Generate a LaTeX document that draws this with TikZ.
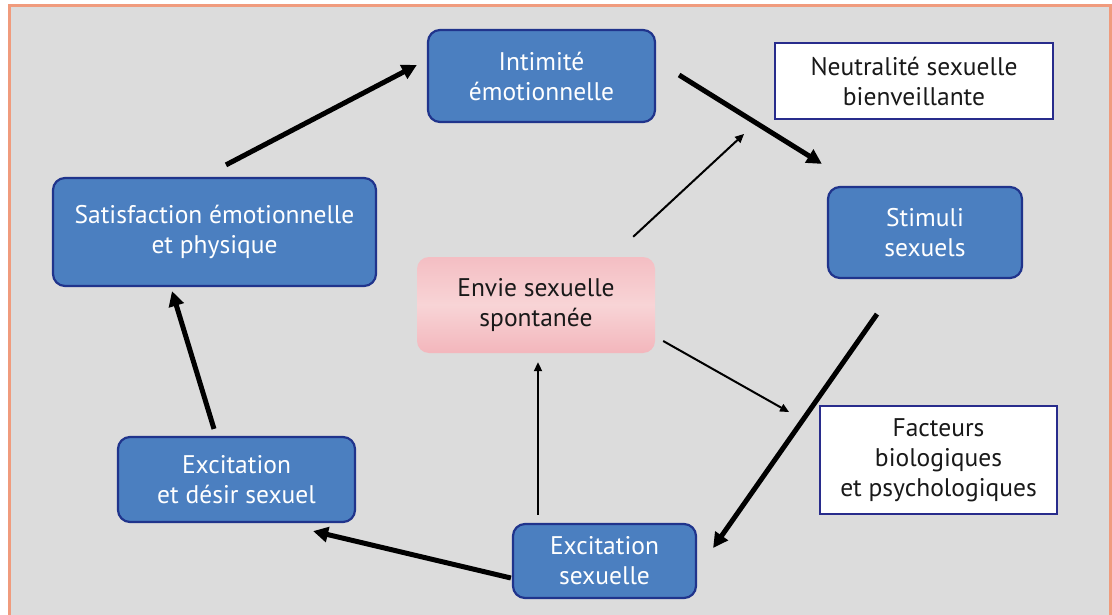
\documentclass[tikz,border=0pt]{standalone}
\usepackage{fontspec}
\setmainfont{PT Sans}
\usetikzlibrary{arrows.meta}
\definecolor{bgray}{RGB}{220,220,220}
\definecolor{frameor}{RGB}{240,155,125}
\definecolor{bluefill}{RGB}{75,127,192}
\definecolor{bluedraw}{RGB}{32,52,140}
\definecolor{navy}{RGB}{40,44,140}
\definecolor{pinktop}{RGB}{244,190,195}
\definecolor{pinkmid}{RGB}{248,212,214}
\definecolor{pinkbot}{RGB}{243,182,188}
\tikzset{
  bluebox/.style={draw=bluedraw, line width=2.2pt, fill=bluefill, rounded corners=12pt,
    text=white, align=center, inner sep=0pt, font=\fontsize{25.5}{30}\selectfont},
  whitebox/.style={draw=navy, line width=1.8pt, fill=white, align=center, inner sep=0pt,
    text=black!90, font=\fontsize{25.5}{30}\selectfont},
  pinkbox/.style={top color=pinktop, bottom color=pinkbot, middle color=pinkmid, rounded corners=12pt,
    align=center, inner sep=0pt, text=black!90, font=\fontsize{25.5}{30}\selectfont},
  bigarrow/.style={line width=5pt, -{Triangle[length=15pt,width=15pt]}},
  thinarrow/.style={line width=2pt, -{Triangle[length=9pt,width=8pt]}}
}
\begin{document}
\begin{tikzpicture}[x=1pt,y=1pt]
\useasboundingbox (0,0) rectangle (1112,-615);
\fill[white] (0,0) rectangle (1112,-615);
\fill[bgray] (9,-6) rectangle (1110,-615);
\draw[frameor, line width=3pt] (9,-615) -- (9,-6) -- (1110,-6) -- (1110,-615);

\node[bluebox, minimum width=227pt, minimum height=92pt] (int) at (541.5,-76) {Intimité\\émotionnelle};
\node[whitebox, minimum width=278pt, minimum height=76pt] (neu) at (914,-81) {Neutralité sexuelle\\bienveillante};
\node[bluebox, minimum width=194pt, minimum height=91pt] (sti) at (925,-232.5) {Stimuli\\sexuels};
\node[bluebox, minimum width=323pt, minimum height=108pt] (sat) at (214.5,-232) {Satisfaction émotionnelle\\et physique};
\node[pinkbox, minimum width=238pt, minimum height=96pt] (env) at (536,-305) {Envie sexuelle\\spontanée};
\node[whitebox, minimum width=237pt, minimum height=108pt] (fac) at (938.5,-460) {Facteurs\\biologiques\\et psychologiques};
\node[bluebox, minimum width=237pt, minimum height=85pt] (exd) at (236.5,-479.5) {Excitation\\et désir sexuel};
\node[bluebox, minimum width=183pt, minimum height=74pt] (exs) at (604.5,-561) {Excitation\\sexuelle};

\draw[bigarrow] ([shift={(11.5,12)}]sat.north) -- ([shift={(-10,11)}]int.west);
\draw[bigarrow] ([shift={(23,1)}]int.east) -- ([shift={(-5,22)}]sti.north west);
\draw[bigarrow] ([shift={(-48,-35)}]sti.south) -- ([shift={(16,13)}]exs.east);
\draw[bigarrow] ([shift={(-1,-17)}]exs.west) -- ([shift={(-43,-8)}]exd.south east);
\draw[bigarrow] ([shift={(-22.5,7)}]exd.north) -- ([shift={(-42.5,-4)}]sat.south);

\draw[thinarrow] ([shift={(-22,20)}]env.north east) -- ([shift={(-30,-14)}]neu.south west);
\draw[thinarrow] ([shift={(8,-36)}]env.east) -- ([shift={(-30,-7)}]fac.north west);
\draw[thinarrow] ([shift={(-66.5,8)}]exs.north) -- ([shift={(2,-9)}]env.south);
\end{tikzpicture}
\end{document}
